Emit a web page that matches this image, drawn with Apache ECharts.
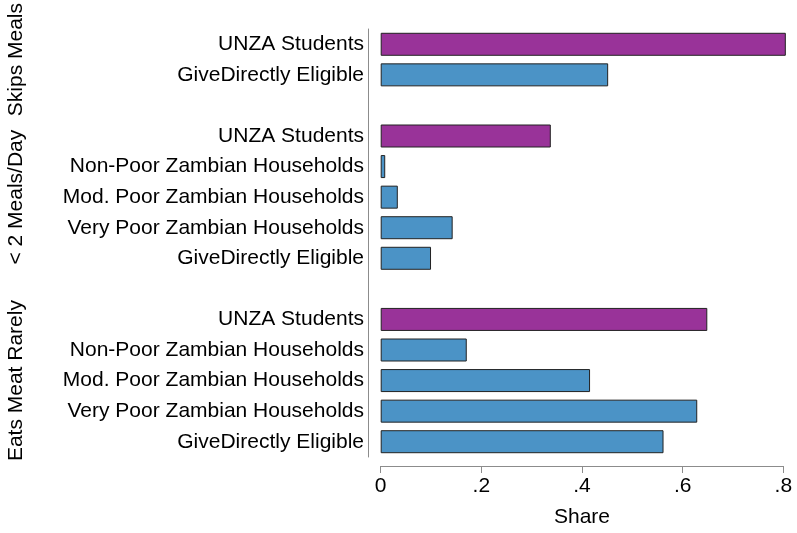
<!DOCTYPE html>
<html>
<head>
<meta charset="utf-8">
<script src="https://cdn.jsdelivr.net/npm/echarts@6/dist/echarts.min.js"></script>
<style>html,body{margin:0;padding:0;background:#fff;}#chart{width:797px;height:533px;}</style>
</head>
<body>
<div id="chart"></div>
<script>
const groupNames = ['Skips Meals', '< 2 Meals/Day', 'Eats Meat Rarely'];
const skipsLabels = ['UNZA Students', 'GiveDirectly Eligible'];
const skipsValues = [0.805, 0.452];
const mealsLabels = ['UNZA Students', 'Non-Poor Zambian Households', 'Mod. Poor Zambian Households', 'Very Poor Zambian Households', 'GiveDirectly Eligible'];
const mealsValues = [0.338, 0.009, 0.034, 0.143, 0.100];
const meatLabels = ['UNZA Students', 'Non-Poor Zambian Households', 'Mod. Poor Zambian Households', 'Very Poor Zambian Households', 'GiveDirectly Eligible'];
const meatValues = [0.649, 0.171, 0.416, 0.629, 0.562];
const xTickLabels = ['0', '.2', '.4', '.6', '.8'];
const xTitle = 'Share';

const FONT = '"Liberation Sans", Arial, Helvetica, sans-serif';
const FS = 21;
const PURPLE = '#993399';
const BLUE = '#4b93c6';

const groups = [
  { name: groupNames[0], labels: skipsLabels, values: skipsValues },
  { name: groupNames[1], labels: mealsLabels, values: mealsValues },
  { name: groupNames[2], labels: meatLabels, values: meatValues }
];

const cats = [], display = {}, data = [], groupSlots = [];
groups.forEach((g, gi) => {
  if (gi > 0) { const k = 'gap' + gi; cats.push(k); display[k] = ''; data.push(null); }
  const slots = [];
  g.labels.forEach((l, i) => {
    const k = 'g' + gi + '_' + i;
    cats.push(k); display[k] = l; slots.push(cats.length - 1);
    data.push({ value: g.values[i], itemStyle: { color: l === 'UNZA Students' ? PURPLE : BLUE } });
  });
  groupSlots.push(slots);
});

const chart = echarts.init(document.getElementById('chart'), null, { renderer: 'canvas' });
chart.setOption({
  animation: false,
  backgroundColor: '#fff',
  textStyle: { fontFamily: FONT },
  grid: { left: 380.7, right: 13.7, top: 29, height: 432, containLabel: false },
  xAxis: {
    type: 'value', min: 0, max: 0.8, interval: 0.2,
    offset: 9,
    axisLine: { show: true, onZero: false, lineStyle: { color: '#8c8c8c', width: 1 } },
    axisTick: { show: true, length: 7, lineStyle: { color: '#8c8c8c' } },
    splitLine: { show: false },
    axisLabel: { margin: 10, fontSize: FS, color: '#000', fontFamily: FONT,
      formatter: v => xTickLabels[Math.round(v / 0.2)] },
    name: xTitle, nameLocation: 'middle', nameGap: 41,
    nameTextStyle: { fontSize: FS, color: '#000', fontFamily: FONT }
  },
  yAxis: {
    type: 'category', data: cats, inverse: true,
    offset: 12.7,
    axisLine: { show: true, onZero: false, lineStyle: { color: '#8c8c8c', width: 1 } },
    axisTick: { show: false },
    axisLabel: { margin: 4, fontSize: FS, color: '#000', fontFamily: FONT,
      interval: 0, formatter: v => display[v] }
  },
  series: [{
    type: 'bar', data: data, barWidth: 23, clip: false,
    itemStyle: { borderColor: '#222', borderWidth: 1 }
  }]
});

const graphics = groups.map((g, gi) => {
  const s = groupSlots[gi];
  const y1 = chart.convertToPixel({ yAxisIndex: 0 }, s[0]);
  const y2 = chart.convertToPixel({ yAxisIndex: 0 }, s[s.length - 1]);
  return {
    type: 'text', x: 16, y: (y1 + y2) / 2, rotation: Math.PI / 2,
    style: { text: g.name, fontSize: FS, fontFamily: FONT, fill: '#000',
      textAlign: 'center', textVerticalAlign: 'middle' }
  };
});
chart.setOption({ graphic: graphics });
</script>
</body>
</html>
